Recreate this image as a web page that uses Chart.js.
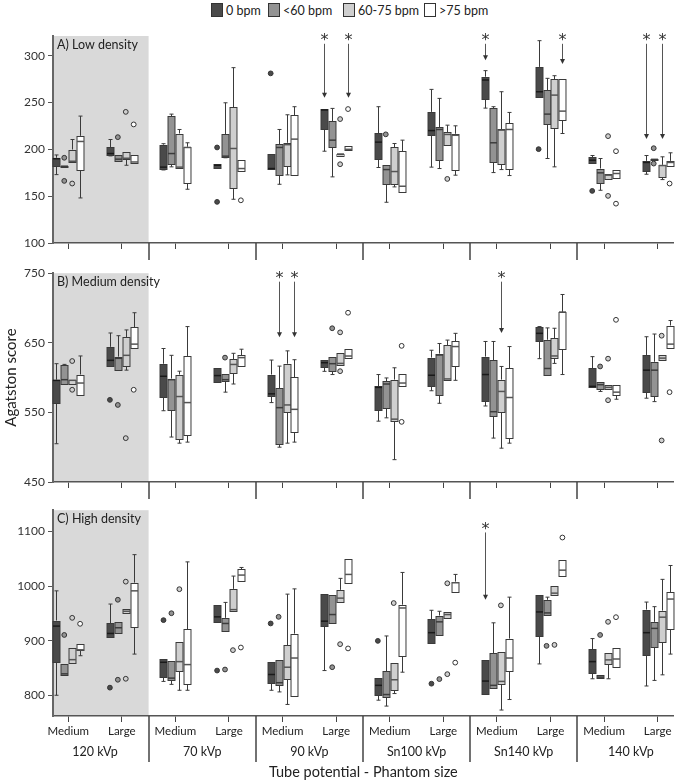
<!DOCTYPE html>
<html>
<head>
<meta charset="utf-8">
<script src="https://cdn.jsdelivr.net/npm/chart.js@4.4.1/dist/chart.umd.min.js"></script>
<style>
  body { margin: 0; background: #fff; width: 677px; height: 783px; position: relative; overflow: hidden; font-family: Lato, "Open Sans", sans-serif; }
  canvas { position: absolute; left: 0; }
  .item { position: absolute; top: 3px; display: flex; align-items: center; font-size: 12.5px; color: #222; height: 14px; }
  .sw { width: 12px; height: 14px; border: 1px solid #333; box-sizing: border-box; margin-right: 3px; }
</style>
</head>
<body>
<div id="legend"></div>
<canvas id="panelA" width="677" height="243" style="top:20px"></canvas>
<canvas id="panelB" width="677" height="237" style="top:263px"></canvas>
<canvas id="panelC" width="677" height="283" style="top:500px"></canvas>

<script>
// ---------- categories / labels ----------
const SERIES = ["0 bpm", "<60 bpm", "60-75 bpm", ">75 bpm"];
const SIZES = ["Medium", "Large"];
const GROUPS = ["120 kVp", "70 kVp", "90 kVp", "Sn100 kVp", "Sn140 kVp", "140 kVp"];
const TICKS_LOW = [100, 150, 200, 250, 300];
const TICKS_MED = [450, 550, 650, 750];
const TICKS_HIGH = [800, 900, 1000, 1100];

// ---------- box data: [min, q1, median, q3, max] per category ----------
// A) Low density
const low0 = [[173,182,190,191,194],[193,194,195.5,202.5,210.5],[178,179,181,205,206],[180.6,180.6,183,184.5,184.5],[178,178.5,179.5,194.5,194.5],[198,222,242,243.5,243.5],[180.6,190,207.7,217,245.5],[181,215,220,240,264],[244,253.3,274,277.5,284],[255.4,255.4,261.5,288,316],[185.6,185.6,188.4,191.3,193.4],[173.4,176.6,186,187.7,193.4]];
const low1 = [[180.6,181,182,182.5,183],[187.7,187.7,189.5,193.8,193.8],[181.3,184.8,195.5,235.5,237.6],[191,191.6,192.7,215.9,249.7],[162.7,172.7,202,205.2,221.2],[170.6,202,209.8,230.1,243.7],[143.5,163.5,178.4,183.8,183.8],[179.5,189.1,221.2,223.4,254.4],[175.2,186.6,207,243.7,245.5],[190.2,226.6,237.6,263.3,275.8],[156.3,164.5,174.9,179.5,190.2],[188.4,188.4,189.3,190.2,190.2]];
const low2 = [[186,186.3,187.3,199.8,210.5],[183,189.8,190.5,197.3,197.3],[180.6,180.6,181,216.9,221.2],[146.7,159.2,200.9,244.7,287.2],[172.7,182,205,207,236.9],[193,193,195,195.5,195.5],[159.9,163.5,176.3,202,206.2],[204.5,204.5,215.9,218,225.8],[178.4,184.1,220.5,221.2,261.5],[181.3,222.3,257.9,274.7,278.6],[168.1,168.1,172.4,174.2,174.2],[167.7,170.6,182.7,183.4,192]];
const low3 = [[148.1,177.7,208.4,214.4,235.5],[185.6,185.6,186.5,193.8,193.8],[157.4,164.5,202,202.7,207],[176.6,176.6,179.5,189.1,189.1],[172.4,172.4,210.9,236.2,245.5],[199.1,199.1,200,203.4,203.4],[154.5,154.5,160.6,197.7,209.8],[172.4,178.4,215,216.6,225.1],[172,179.5,221.2,227.6,239.4],[216.9,230.8,240.8,274.7,274.7],[169.9,169.9,174.2,177.7,177.7],[182.7,182.7,186,187.7,196.3]];
const lowOut0 = [[3,202],[3,143.9],[4,281.1],[9,200.2],[10,155.6]];
const lowOut1 = [[0,191],[0,166.3],[1,213],[6,216],[11,201.2],[11,184.8]];
const lowOut2 = [[0,163.5],[1,240],[5,232.3],[5,184.1],[7,168.4],[10,214.1],[10,150.3]];
const lowOut3 = [[1,226.6],[3,145.6],[5,243],[10,198],[10,142],[11,163.5]];
// [category, series, asterisk value, arrow head value]
const lowStars = [[5,0,318,255],[5,3,318,255],[8,0,318,295],[9,3,318,291],[11,0,318,211],[11,2,318,211]];

// B) Medium density
const med0 = [[505,563,596,597,620],[616.5,616.5,624.8,644.2,664.1],[552.4,572.8,601.9,619.9,641.8],[593.7,593.7,602.9,614.1,614.1],[564.1,573.8,576.7,604.4,625.2],[609,615,621.4,625.2,625.2],[537.4,553.4,585.9,587.4,604.4],[581.1,587.4,603.4,628.7,639.3],[559.2,566.5,604.4,630.1,651.9],[627.2,651.9,663.6,672.3,673.3],[585.9,585.9,587.4,613.1,630.1],[570.4,579.1,610.7,632.5,658.7]];
const med1 = [[591.3,591.3,597,618,619],[610.7,610.7,627.7,630.1,660.2],[514.6,553.4,597,598.6,632],[579.1,594.7,597,605.8,605.8],[500,504.9,556.8,585,616.5],[604.4,609.2,620,629.7,629.7],[542.2,555.8,590.8,594.7,599.5],[563.1,575.3,632.5,634.5,649],[513.1,544.7,551,624.8,651.9],[603.4,603.4,613.1,654.4,671.4],[580.1,583.5,589.8,593.7,593.7],[565.5,573.8,610.7,622.8,662.6]];
const med2 = [[591.3,591.3,596.1,597,597],[610.7,616.5,632,657.8,668.5],[505.8,512.2,572.8,604.4,609.2],[590.8,606.8,618.9,626.2,634.9],[505.8,550,560.7,619.9,638.4],[617.5,617.5,620.4,635.9,635.9],[482.1,537.4,540.3,597.1,614.1],[596.1,597.1,598.1,646.6,653.9],[498.6,551,580.1,597.1,616],[620.4,627.7,631.1,656.8,670.9],[583.9,583.9,586,588.9,588.9],[625.2,625.2,628,632,632]];
const med3 = [[575.3,575.3,592.2,604.4,631.1],[642.2,642.2,648.1,672.3,693.2],[507.3,518,564.1,631.1,673.3],[616.5,616.5,628.7,632,640.8],[507.3,521.9,554.4,600.5,625.7],[628.7,628.7,631,640.8,640.8],[588.4,588.4,592.2,605.8,605.8],[596.1,616.5,644.6,651.9,663.6],[505.8,513.1,571.4,613.1,644.6],[604.4,641.8,694.2,694.2,719.4],[568.9,575.3,579.1,589.8,589.8],[642.2,642.2,648.1,674.8,682]];
const medOut0 = [[1,568]];
const medOut1 = [[1,560.7],[3,628.7],[5,670.9],[10,616]];
const medOut2 = [[0,623.8],[0,582.5],[1,513],[5,665],[5,609.2],[10,627.2],[10,567.5],[11,660.2],[11,509.7]];
const medOut3 = [[1,582.5],[5,693.2],[6,645.6],[6,536.4],[10,683],[11,579.1]];
const medStars = [[4,1,745,658],[4,3,745,658],[8,2,745,664]];

// C) High density
const high0 = [[800.5,861.9,926.8,937,991.2],[906.9,906.9,913.4,931.6,967.1],[825.8,833.6,860.7,866.7,866.7],[934.6,934.6,943.7,964.7,964.7],[809.6,822.8,838.4,861.9,861.9],[845.6,926.8,935.8,985.8,985.8],[791.5,800.5,818.6,831.8,831.8],[896.8,896.8,914.8,938.9,955.7],[803.6,803.6,826.4,864.9,864.9],[857.7,908.8,952.7,982.7,982.7],[830.6,841.4,861.9,884.7,904],[817.4,874.5,914.8,956.9,970.7]];
const high1 = [[837.8,837.8,839.6,857.7,857.7],[913.4,913.4,923.8,934,934],[820.4,828.8,831.8,862.5,862.5],[917.8,917.8,931.6,941.9,970.1],[806.6,818.6,823.4,865.5,865.5],[931.6,931.6,947.9,982.7,982.7],[780.7,797.5,801.8,844.4,908.8],[910.6,910.6,934.6,946.1,953.9],[814.4,814.4,818.6,877.2,932.8],[946.7,946.7,950.9,974.9,979.7],[832.4,832.4,833.6,837.8,837.8],[827.6,888.9,922.6,934.6,962.3]];
const high2 = [[859.5,859.5,865.5,887.7,887.7],[950.9,950.9,953.9,958.7,958.7],[809.6,844.5,861.9,898.6,898.6],[953.9,953.9,956.9,994.8,1018.2],[783.7,829.4,851.7,891.9,985.2],[970.7,970.7,977.9,993,1014],[803.6,809.6,828.8,858.9,858.9],[941.9,941.9,947.9,952.7,952.7],[773.5,821.6,825.8,878.7,878.7],[984,984,987,1000.2,1000.2],[830.6,857.7,865.1,877.5,877.5],[837.8,898.6,943.1,955.1,1012.2]];
const high3 = [[872.7,882.9,883.5,894.9,894.9],[875.7,925.6,991.2,1006.2,1057.3],[809.6,821.6,856.5,920.8,1044.1],[1009.8,1009.8,1020,1030.9,1033.9],[799.3,799.3,868.5,913,994.8],[1006.2,1006.2,1021.2,1050.1,1050.1],[842.6,871.5,959.9,965.9,1024.8],[988.8,988.8,1006,1008,1021.2],[792.7,845.6,868.5,904,979.7],[1018.2,1018.2,1029,1047.1,1047.1],[851.7,851.7,866.7,887.7,887.7],[875.7,920.8,976.2,988.8,1037.5]];
const highOut0 = [[1,814.4],[2,937.7],[3,845.6],[4,931.6],[6,899.8],[7,821.6]];
const highOut1 = [[0,910.6],[1,974.9],[1,828.8],[2,950.3],[3,847.5],[4,943.7],[5,851.7],[7,830],[9,890.7],[10,910.6]];
const highOut2 = [[0,941.9],[1,1008],[1,830.6],[2,994.2],[3,882.9],[5,893.8],[6,968.9],[7,1005],[7,839],[8,964.7],[9,892.5],[10,934.6]];
const highOut3 = [[0,931],[3,887.7],[5,886],[7,860.1],[9,1088.6],[10,943.1]];
const highStars = [[8,0,1107,975]];

// ---------- styles ----------
const FILLS = ["#4a4a4a", "#939393", "#cfcfcf", "#ffffff"];
const MEDIANS = ["#1a1a1a", "#3c3c3c", "#555555", "#555555"];
const OFFS = [-0.222, -0.074, 0.074, 0.222]; // position des 4 boites dans une categorie
const BOX_W = 0.13;
const X_MIN = -0.284, X_MAX = 11.297;
const FONT = "Lato, 'Open Sans', sans-serif";

// legende en HTML
const legendX = [211, 268, 343, 424];
const legendEl = document.getElementById("legend");
SERIES.forEach((name, s) => {
  const d = document.createElement("div");
  d.className = "item";
  d.style.left = legendX[s] + "px";
  d.innerHTML = `<span class="sw" style="background:${FILLS[s]}"></span>`;
  d.appendChild(document.createTextNode(name));
  legendEl.appendChild(d);
});

// plugin qui dessine les boites, fleches, separateurs
function panelPlugin(p) {
  return {
    id: "panel" + p.label[0],
    beforeDraw(chart) {
      const { ctx, chartArea: a, scales: { x } } = chart;
      ctx.save();
      ctx.fillStyle = "#d9d9d9";
      ctx.fillRect(a.left, a.top, x.getPixelForValue(1.5) - a.left, a.bottom - a.top);
      ctx.restore();
    },
    beforeDatasetsDraw(chart) {
      const { ctx, scales: { x, y } } = chart;
      const hw = (x.getPixelForValue(BOX_W) - x.getPixelForValue(0)) / 2;
      ctx.save();
      p.boxes.forEach((serie, s) => {
        serie.forEach((b, c) => {
          const cx = Math.round(x.getPixelForValue(c + OFFS[s])) + 0.5;
          const [mn, q1, md, q3, mx] = b.map(v => y.getPixelForValue(v));
          ctx.strokeStyle = "#3a3a3a";
          ctx.lineWidth = 1;
          // moustaches
          ctx.beginPath();
          if (mx < q3 - 0.5) { ctx.moveTo(cx, q3); ctx.lineTo(cx, mx); ctx.moveTo(cx - 2, mx); ctx.lineTo(cx + 2, mx); }
          if (mn > q1 + 0.5) { ctx.moveTo(cx, q1); ctx.lineTo(cx, mn); ctx.moveTo(cx - 2, mn); ctx.lineTo(cx + 2, mn); }
          ctx.stroke();
          // boite
          const top = Math.round(q3) + 0.5, bot = Math.round(q1) + 0.5;
          ctx.fillStyle = FILLS[s];
          ctx.fillRect(cx - hw, top, hw * 2, Math.max(bot - top, 1));
          ctx.strokeRect(cx - hw, top, hw * 2, Math.max(bot - top, 1));
          // mediane
          ctx.strokeStyle = MEDIANS[s];
          ctx.lineWidth = 1.5;
          ctx.beginPath();
          ctx.moveTo(cx - hw, md); ctx.lineTo(cx + hw, md);
          ctx.stroke();
        });
      });
      ctx.restore();
    },
    afterDraw(chart) {
      const { ctx, chartArea: a, scales: { x, y } } = chart;
      ctx.save();
      // separateurs de groupes
      ctx.strokeStyle = "#444";
      ctx.lineWidth = 1.5;
      ctx.beginPath();
      for (let g = 1; g < GROUPS.length; g++) {
        const px = Math.round(x.getPixelForValue(2 * g - 0.5));
        ctx.moveTo(px, a.bottom);
        ctx.lineTo(px, a.bottom + p.sepLen);
      }
      ctx.stroke();
      // etoiles + fleches
      p.stars.forEach(([c, s, from, to]) => {
        const px = Math.round(x.getPixelForValue(c + OFFS[s])) + 0.5;
        const y0 = y.getPixelForValue(from), y1 = y.getPixelForValue(to);
        ctx.fillStyle = "#333";
        ctx.font = "16px 'DejaVu Sans'";
        ctx.textAlign = "center";
        ctx.textBaseline = "middle";
        ctx.fillText("*", px, y0 + 2);
        ctx.strokeStyle = "#555";
        ctx.lineWidth = 1;
        ctx.beginPath();
        ctx.moveTo(px, y0 + 5);
        ctx.lineTo(px, y1 - 4);
        ctx.stroke();
        ctx.beginPath();
        ctx.moveTo(px - 2.5, y1 - 5);
        ctx.lineTo(px + 2.5, y1 - 5);
        ctx.lineTo(px, y1);
        ctx.closePath();
        ctx.fill();
      });
      // titre du panneau
      ctx.fillStyle = "#222";
      ctx.font = "12.5px " + FONT;
      ctx.textAlign = "left";
      ctx.textBaseline = "top";
      ctx.fillText(p.label, a.left + 4, a.top + 3);
      ctx.restore();
    }
  };
}

function makePanel(id, p) {
  const datasets = SERIES.map((name, s) => ({
    label: name,
    data: p.outliers[s].map(([c, v]) => ({ x: c + OFFS[s], y: v })),
    pointRadius: 2.4,
    pointHoverRadius: 2.4,
    pointBackgroundColor: FILLS[s],
    pointBorderColor: "#333",
    pointBorderWidth: 1
  }));

  const scales = {
    x: {
      type: "linear", min: X_MIN, max: X_MAX,
      afterBuildTicks: sc => { sc.ticks = Array.from({ length: 12 }, (_, i) => ({ value: i })); },
      ticks: { display: p.bottom, callback: (v, i) => SIZES[i % 2], color: "#222", font: { family: FONT, size: 11.5 }, padding: 2, maxRotation: 0 },
      grid: { drawOnChartArea: false, tickLength: 6, color: "#444" },
      border: { color: "#555", width: 1.5 },
      afterFit: sc => { sc.height = p.xHeight; }
    },
    y: {
      min: p.min, max: p.max,
      afterBuildTicks: sc => { sc.ticks = p.ticks.map(v => ({ value: v })); },
      ticks: { color: "#333", font: { family: FONT, size: 12 }, padding: 3, callback: v => String(v) },
      grid: { drawOnChartArea: false, tickLength: 5, color: "#555" },
      border: { color: "#666", width: 2 },
      title: { display: !!p.yTitle, text: p.yTitle, color: "#222", font: { family: FONT, size: 15 }, padding: { top: 2, bottom: 0 } },
      afterFit: sc => { sc.width = 53; }
    }
  };
  if (p.bottom) {
    scales.x2 = {
      type: "linear", position: "bottom", min: X_MIN, max: X_MAX,
      afterBuildTicks: sc => { sc.ticks = GROUPS.map((_, g) => ({ value: 2 * g + 0.5 })); },
      ticks: { callback: (v, i) => GROUPS[i], color: "#222", font: { family: FONT, size: 12.5 }, padding: 6, maxRotation: 0 },
      grid: { display: false, drawTicks: false },
      border: { display: false },
      title: { display: true, text: "Tube potential - Phantom size", color: "#222", font: { family: FONT, size: 14.5 }, padding: { top: 4, bottom: 2 } },
      afterFit: sc => { sc.height = 45; }
    };
  }

  return new Chart(document.getElementById(id), {
    type: "scatter",
    data: { datasets },
    options: {
      responsive: false,
      animation: false,
      layout: { padding: { top: p.padTop, left: 0, right: 0, bottom: 0 } },
      plugins: { legend: { display: false }, tooltip: { enabled: false } },
      scales
    },
    plugins: [panelPlugin(p)]
  });
}

makePanel("panelA", {
  label: "A) Low density", min: 100, max: 321, ticks: TICKS_LOW,
  boxes: [low0, low1, low2, low3], outliers: [lowOut0, lowOut1, lowOut2, lowOut3], stars: lowStars,
  padTop: 16, xHeight: 20, sepLen: 17, bottom: false
});
makePanel("panelB", {
  label: "B) Medium density", min: 450, max: 750, ticks: TICKS_MED, yTitle: "Agatston score",
  boxes: [med0, med1, med2, med3], outliers: [medOut0, medOut1, medOut2, medOut3], stars: medStars,
  padTop: 10, xHeight: 18, sepLen: 17, bottom: false
});
makePanel("panelC", {
  label: "C) High density", min: 762.6, max: 1138.5, ticks: TICKS_HIGH,
  boxes: [high0, high1, high2, high3], outliers: [highOut0, highOut1, highOut2, highOut3], stars: highStars,
  padTop: 8, xHeight: 22, sepLen: 46, bottom: true
});
</script>
</body>
</html>
